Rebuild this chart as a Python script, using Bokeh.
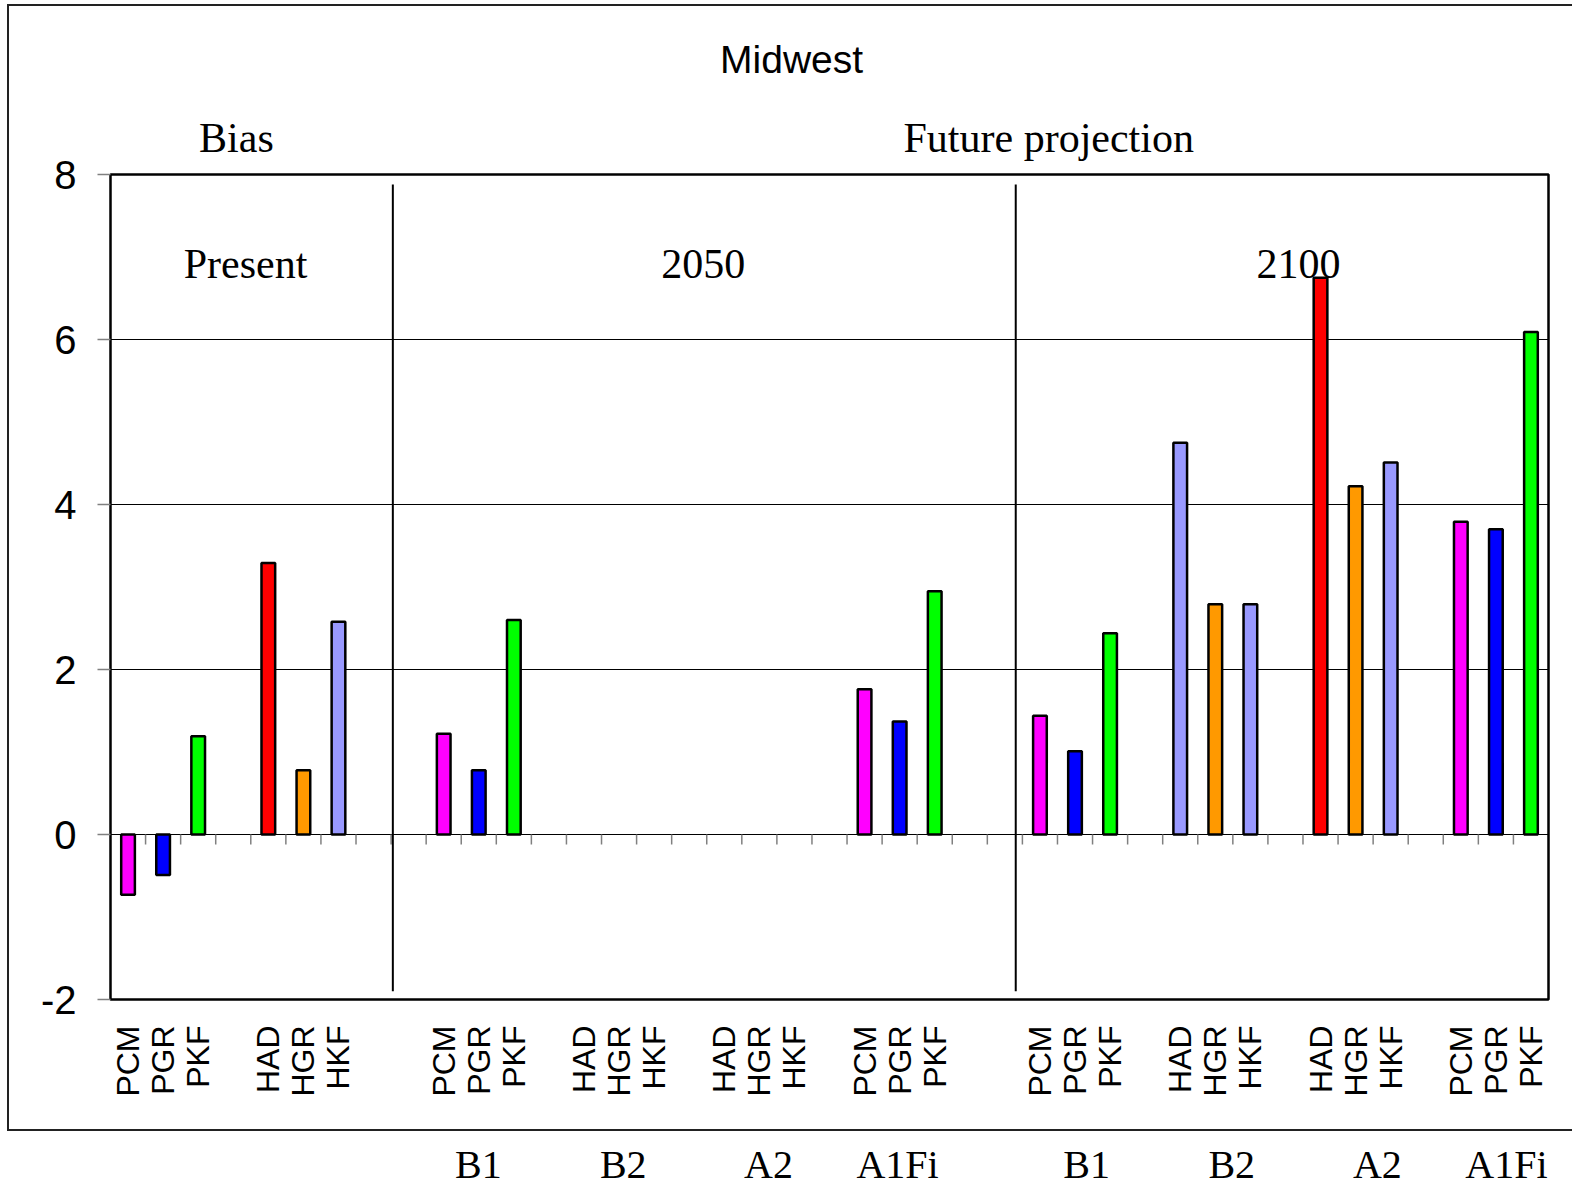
import math
from bokeh.plotting import figure
from bokeh.models import (ColumnDataSource, FixedTicker, Label, LinearAxis,
                          InlineStyleSheet)
from bokeh.embed import file_html
from bokeh.resources import INLINE

# ---- data -------------------------------------------------------------
# one entry per category slot on the x axis ("" = spacer slot)
slot_labels = [
    "PCM", "PGR", "PKF", "", "HAD", "HGR", "HKF", "",            # Present (bias)
    "", "PCM", "PGR", "PKF", "", "HAD", "HGR", "HKF", "",         # 2050 B1, B2
    "HAD", "HGR", "HKF", "", "PCM", "PGR", "PKF", "", "",         # 2050 A2, A1Fi
    "PCM", "PGR", "PKF", "", "HAD", "HGR", "HKF", "",             # 2100 B1, B2
    "HAD", "HGR", "HKF", "", "PCM", "PGR", "PKF",                 # 2100 A2, A1Fi
]
values = [
    -0.73, -0.49, 1.19, None, 3.29, 0.78, 2.58, None,
    None, 1.22, 0.78, 2.60, None, None, None, None, None,
    None, None, None, None, 1.76, 1.37, 2.95, None, None,
    1.44, 1.01, 2.44, None, 4.75, 2.79, 2.79, None,
    6.75, 4.22, 4.51, None, 3.79, 3.70, 6.09,
]
y_ticks = [-2, 0, 2, 4, 6, 8]
y_tick_labels = ["-2", "0", "2", "4", "6", "8"]
section_labels = ["Bias", "Future projection"]
period_labels = ["Present", "2050", "2100"]
scenario_labels = ["B1", "B2", "A2", "A1Fi", "B1", "B2", "A2", "A1Fi"]
title_text = "Midwest"

# ---- label anchor positions (in x slot units) --------------------------
section_pos = [3.09, 26.25]
period_pos = [3.35, 16.4, 33.37]
scenario_pos = [9.99, 14.12, 18.26, 21.94, 27.33, 31.47, 35.62, 39.30]
title_pos = [18.92]

# ---- styles -----------------------------------------------------------
model_colors = {"PCM": "#FF00FF", "PGR": "#0000FF", "PKF": "#00FF00",
                "HAD": "#FF0000", "HGR": "#FF9900", "HKF": "#9999FF"}
color_overrides = {30: "#9999FF"}  # 2100 B2 HAD bar is drawn lavender in the original

bar_x, bar_top, bar_color = [], [], []
for i, (lab, v) in enumerate(zip(slot_labels, values)):
    if v is None:
        continue
    bar_x.append(i)
    bar_top.append(v)
    bar_color.append(color_overrides.get(i, model_colors[lab]))

src = ColumnDataSource(dict(x=bar_x, top=bar_top, color=bar_color))

n = len(slot_labels)
p = figure(width=1572, height=1189, x_range=(-0.5, n - 0.5), y_range=(-2, 8),
           output_backend="svg", toolbar_location=None, title=None,
           min_border_left=110, min_border_right=24, min_border_top=174,
           min_border_bottom=189)
p.background_fill_color = "white"
p.border_fill_color = "white"
p.outline_line_color = "black"
p.outline_line_width = 2.5

# y axis
p.yaxis.ticker = FixedTicker(ticks=y_ticks)
ovr = {t: s for t, s in zip(y_ticks, y_tick_labels)}
ovr["\u22122"] = "-2"
p.yaxis.major_label_overrides = ovr
p.yaxis.axis_line_color = None
p.yaxis.major_tick_out = 13
p.yaxis.major_tick_in = 0
p.yaxis.major_tick_line_color = "#808080"
p.yaxis.major_tick_line_width = 1.5
p.yaxis.minor_tick_line_color = None
p.yaxis.major_label_text_font = "Liberation Sans"
p.yaxis.major_label_text_font_size = "40px"
p.yaxis.major_label_text_color = "black"
p.yaxis.major_label_standoff = 21

p.ygrid.grid_line_color = "black"
p.ygrid.grid_line_width = 1
p.xgrid.grid_line_color = None


def label_axis(ticks, texts):
    o = {}
    for t, s in zip(ticks, texts):
        o[t] = s
        o["%g" % t] = s
    ax = LinearAxis(ticker=FixedTicker(ticks=ticks), major_label_overrides=o)
    ax.axis_line_color = None
    ax.major_tick_line_color = None
    ax.major_tick_out = 0
    ax.major_tick_in = 0
    ax.minor_tick_line_color = None
    ax.major_label_text_color = "black"
    return ax


# x axis (category names, rotated)
label_ticks = [i for i, l in enumerate(slot_labels) if l]
p.xaxis.ticker = FixedTicker(ticks=label_ticks)
p.xaxis.major_label_overrides = {i: slot_labels[i] for i in label_ticks}
p.xaxis.axis_line_color = None
p.xaxis.major_tick_line_color = None
p.xaxis.major_tick_out = 0
p.xaxis.major_tick_in = 0
p.xaxis.minor_tick_line_color = None
p.xaxis.major_label_orientation = math.pi / 2
p.xaxis.major_label_standoff = 26
p.xaxis.major_label_text_font = "Liberation Sans"
p.xaxis.major_label_text_font_size = "32px"
p.xaxis.major_label_text_color = "black"

serif = "Liberation Serif"

# scenario names below the model names
ax_sc = label_axis(scenario_pos, scenario_labels)
ax_sc.major_label_text_font = serif
ax_sc.major_label_text_font_size = "40px"
ax_sc.major_label_standoff = 42
p.add_layout(ax_sc, "below")

# "Bias" / "Future projection" just above the plot box
ax_sec = label_axis(section_pos, section_labels)
ax_sec.major_label_text_font = serif
ax_sec.major_label_text_font_size = "42px"
ax_sec.major_label_standoff = 14
p.add_layout(ax_sec, "above")

# chart title
ax_title = label_axis(title_pos, [title_text])
ax_title.major_label_text_font = "Liberation Sans"
ax_title.major_label_text_font_size = "39px"
ax_title.major_label_standoff = 31
p.add_layout(ax_title, "above")

# inner text labels (under the bars)
for txt, xx in zip(period_labels, period_pos):
    p.add_layout(Label(x=xx, y=6.92, text=txt, text_font=serif, text_font_size="42px",
                       text_color="black", text_align="center",
                       text_baseline="alphabetic", level="underlay"))

# small category ticks hanging under the zero line
bounds = [k + 0.5 for k in range(n - 1)]
p.segment(x0=bounds, y0=[0] * len(bounds), x1=bounds, y1=[-0.12] * len(bounds),
          line_color="#808080", line_width=1.5)

# separators between Present / 2050 / 2100
p.segment(x0=[7.55, 25.31], y0=[7.88, 7.88], x1=[7.55, 25.31], y1=[-1.90, -1.90],
          line_color="black", line_width=2)

# bars
p.vbar(x="x", top="top", bottom=0, width=0.39, source=src, fill_color="color",
       line_color="black", line_width=2.5)

# outer chart border (left, top, bottom edges; right edge lies off-page)
p.stylesheets = [InlineStyleSheet(css=(
    ":host{position:relative;}"
    ":host::after{content:'';position:absolute;left:7px;top:3.5px;width:1565px;"
    "height:1127px;border-left:2px solid #222;border-top:2px solid #222;"
    "border-bottom:2px solid #222;box-sizing:border-box;pointer-events:none;}"
))]

open("out.html", "w").write(file_html(p, INLINE))
